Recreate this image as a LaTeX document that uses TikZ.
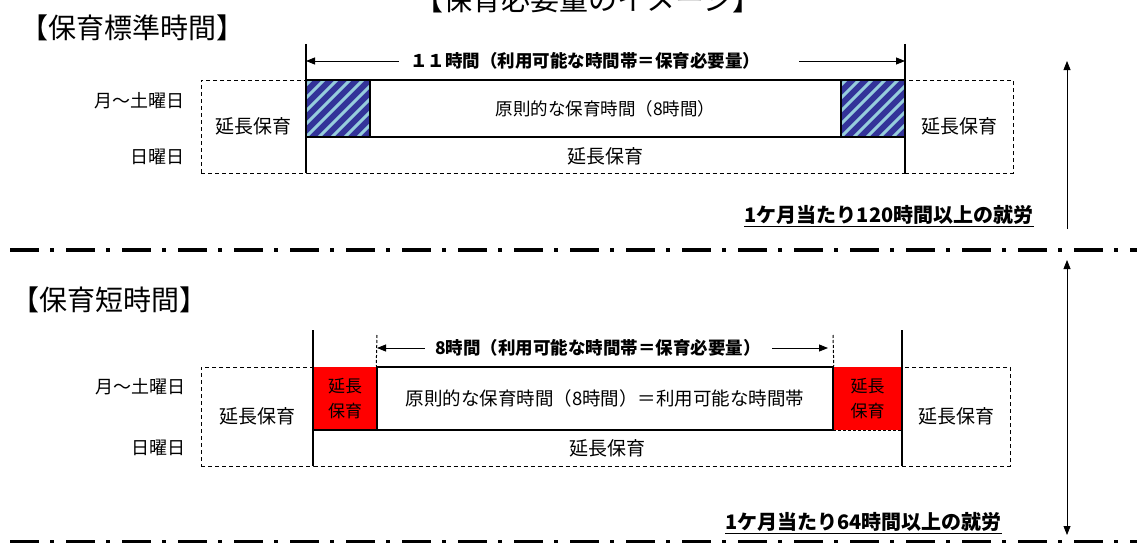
\documentclass[tikz,border=0pt]{standalone}
\usepackage{fontspec}
\setmainfont{Noto Sans CJK JP}
\usetikzlibrary{arrows.meta}

\definecolor{hatchdark}{RGB}{51,51,153}
\definecolor{hatchlight}{RGB}{150,205,220}

\begin{document}
\begin{tikzpicture}[x=1pt,y=-1pt,
  head/.style={font=\fontsize{28}{28}\selectfont, inner sep=0pt},
  lbl/.style={font=\fontsize{19}{19}\selectfont, inner sep=0pt},
  day/.style={font=\fontsize{18}{18}\selectfont, anchor=east, inner sep=0pt},
  core/.style={font=\fontsize{17.5}{17.5}\selectfont, inner sep=0pt},
  span/.style={font=\bfseries\fontsize{17.5}{17.5}\selectfont, inner sep=0pt},
  work/.style={font=\bfseries\fontsize{20}{20}\selectfont, inner sep=0pt},
  bar/.style={line width=2pt},
  thin/.style={line width=1pt, dash pattern=on 3pt off 2pt},
  extbox/.style={draw, line width=1pt, dash pattern=on 4pt off 3pt, inner sep=0pt},
  dim/.style={-{Triangle[length=9pt,width=7pt]}, line width=0.8pt},
  sep/.style={line width=4pt, dash pattern=on 29pt off 11pt on 4pt off 12pt},
  hatchbox/.style={draw, line width=2pt, fill=hatchdark, inner sep=0pt,
    minimum width=64pt, minimum height=57pt,
    path picture={\foreach \k in {-5,...,5}
      \draw[hatchlight, line width=3pt]
        ([xshift=\k*13pt]path picture bounding box.south west) -- ++(70pt,70pt);}},
  redbox/.style={fill=red, inner sep=0pt, align=center,
    font=\fontsize{17}{25}\selectfont, minimum height=63pt}]

\useasboundingbox (0,0) rectangle (1137,543);

% title, cut off at the top
\node[head, font=\fontsize{29}{29}\selectfont] (title) at (588,-1) {【保育必要量のイメージ】};

% ---- standard hours ----
\node[head] (head1) at (132,28) {【保育標準時間】};

\node[extbox, minimum width=105pt, minimum height=93pt, font=\fontsize{19}{19}\selectfont] (ext1l) at (253.5,126.5) {延長保育};
\node[extbox, minimum width=108pt, minimum height=93pt, font=\fontsize{19}{19}\selectfont] (ext1r) at (959,126.5) {延長保育};
\draw[extbox] (ext1l.south east) -- (ext1r.south west);

\node[hatchbox] (h1) at (338,108.5) {};
\node[hatchbox] (h2) at (873,108.5) {};
\node[core, draw, bar, minimum width=471pt, minimum height=57pt] (core1) at (605.5,108.5) {原則的な保育時間（8時間）};
\node[lbl] (sun1) at (605.5,156) {延長保育};

\coordinate (a1) at (306,44);
\coordinate (a2) at (306,173);
\coordinate (b1) at (905,44);
\coordinate (b2) at (905,173);
\draw[bar] (a1) -- (a2);
\draw[bar] (b1) -- (b2);

\node[day] (mon1d) at (185,101) {月～土曜日};
\node[day] (sun1d) at (185,157) {日曜日};

\node[span] (span1) at (585,61) {１１時間（利用可能な時間帯＝保育必要量）};
\draw[dim] ([xshift=-11pt]span1.west) -- (span1 -| a1);
\draw[dim] ([xshift=39pt]span1.east) -- (span1 -| b1);

\node[work] (w1) at (889,215) {1ケ月当たり120時間以上の就労};
\draw[line width=1.5pt] ([yshift=-2pt]w1.south west) -- ([yshift=-2pt]w1.south east);

\coordinate (v1a) at (1067,229);
\coordinate (v1b) at (1067,61);
\draw[dim] (v1a) -- (v1b);

\draw[sep] (10,250) -- (1137,250);

% ---- short hours ----
\node[head] (head2) at (109,300) {【保育短時間】};

\node[extbox, minimum width=112pt, minimum height=99pt, font=\fontsize{19}{19}\selectfont] (ext2l) at (257,416.5) {延長保育};
\node[extbox, minimum width=108pt, minimum height=99pt, font=\fontsize{19}{19}\selectfont] (ext2r) at (956,416.5) {延長保育};
\draw[extbox] (ext2l.south east) -- (ext2r.south west);

\node[redbox, minimum width=64pt] (r1) at (345,398.5) {延長\\保育};
\node[redbox, minimum width=69pt] (r2) at (867.5,398.5) {延長\\保育};
\node[core, font=\fontsize{18.5}{18.5}\selectfont, draw, line width=1.5pt, minimum width=456pt, minimum height=63pt] (core2) at (605,398.5) {原則的な保育時間（8時間）＝利用可能な時間帯};
\draw[bar] (r1.south west) -- (r1.south east);
\draw[thin] (r2.south west) -- (r2.south east);
\node[lbl] (sun2) at (607.5,448) {延長保育};

\coordinate (c1) at (313,330);
\coordinate (c2) at (313,466);
\coordinate (d1) at (902,330);
\coordinate (d2) at (902,466);
\draw[bar] (c1) -- (c2);
\draw[bar] (d1) -- (d2);
\coordinate (e1) at (377,335);
\coordinate (f1) at (833,335);
\draw[thin] (e1) -- (core2.north west);
\draw[thin] (f1) -- (core2.north east);

\node[day] (mon2d) at (186,387) {月～土曜日};
\node[day] (sun2d) at (186,448) {日曜日};

\node[span] (span2) at (598,348) {8時間（利用可能な時間帯＝保育必要量）};
\draw[dim] ([xshift=-10pt]span2.west) -- (span2 -| e1);
\draw[dim] ([xshift=11pt]span2.east) -- ([xshift=-5pt]span2 -| f1);

\node[work] (w2) at (863.5,522) {1ケ月当たり64時間以上の就労};
\draw[line width=1.5pt] ([yshift=-2pt]w2.south west) -- ([yshift=-2pt]w2.south east);

\coordinate (v2a) at (1067,260);
\coordinate (v2b) at (1067,535);
\draw[dim, {Triangle[length=9pt,width=7pt]}-{Triangle[length=9pt,width=7pt]}] (v2a) -- (v2b);

\draw[sep] (10,542) -- (1137,542);

\end{tikzpicture}
\end{document}
